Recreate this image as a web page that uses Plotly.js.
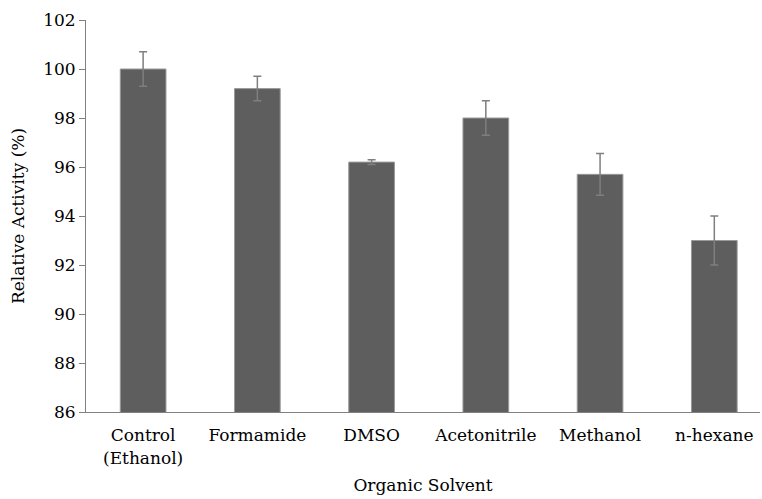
<!DOCTYPE html>
<html>
<head>
<meta charset="utf-8">
<script src="https://cdn.plot.ly/plotly-3.0.1.min.js"></script>
<style>html,body{margin:0;padding:0;background:#fff;}#chart{width:762px;height:499px;}</style>
</head>
<body>
<div id="chart"></div>
<script>
const categories = ["Control<br>(Ethanol)", "Formamide", "DMSO", "Acetonitrile", "Methanol", "n-hexane"];
const relativeActivity = [100.0, 99.2, 96.2, 98.0, 95.7, 93.0];
const errorValues = [0.7, 0.5, 0.1, 0.7, 0.85, 1.0];
const yTickValues = [86, 88, 90, 92, 94, 96, 98, 100, 102];

function serif() { return {family: "DejaVu Serif", size: 17, color: "#000000"}; }

const trace = {
  type: "bar",
  x: categories,
  y: relativeActivity,
  width: 0.4,
  marker: {color: "#5e5e5e", line: {color: "#9a9a9a", width: 1}},
  error_y: {type: "data", array: errorValues, visible: true, color: "#7f7f7f", thickness: 1.5, width: 4}
};

const layout = {
  width: 762, height: 499,
  margin: {l: 86, r: 2, t: 20, b: 87},
  paper_bgcolor: "#fff", plot_bgcolor: "#fff",
  font: serif(),
  showlegend: false,
  bargap: 0.6,
  xaxis: {
    type: "category",
    range: [-0.5, 5.4],
    showline: true, linecolor: "#808080", linewidth: 1,
    ticks: "", showgrid: false, zeroline: false,
    tickfont: serif(),
    ticklabelstandoff: 8,
    title: {text: "Organic Solvent", font: serif(), standoff: 12}
  },
  yaxis: {
    range: [86, 102],
    tickvals: yTickValues,
    ticktext: yTickValues.map(String),
    showline: true, linecolor: "#808080", linewidth: 1,
    ticks: "outside", ticklen: 6, tickcolor: "#808080",
    showgrid: false, zeroline: false,
    tickfont: serif(),
    title: {text: "Relative Activity (%)", font: serif(), standoff: 14}
  }
};

Plotly.newPlot("chart", [trace], layout, {displayModeBar: false});
</script>
</body>
</html>
